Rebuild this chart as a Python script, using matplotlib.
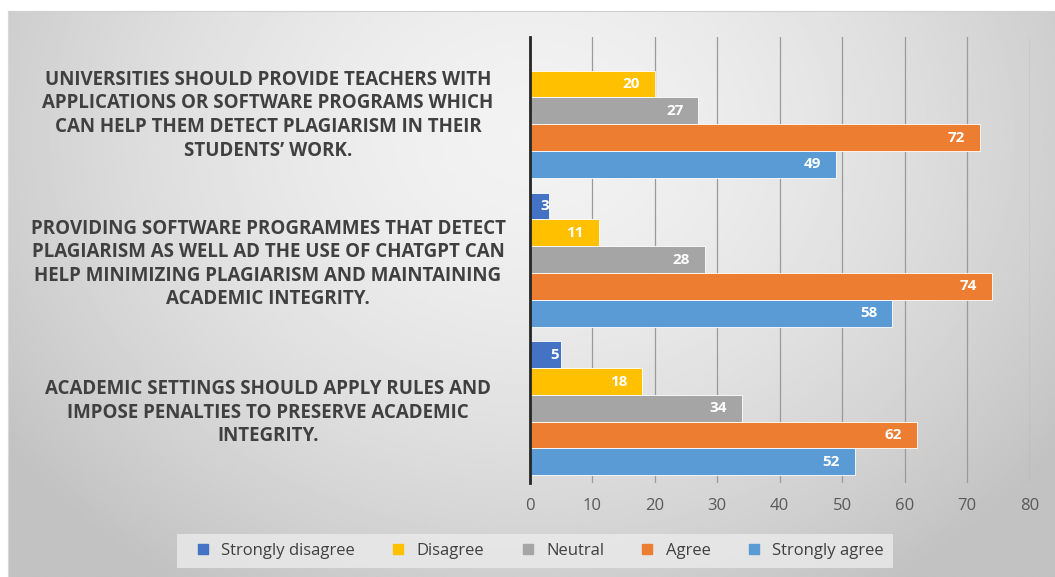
import numpy as np
import matplotlib.pyplot as plt
from matplotlib.lines import Line2D

# survey statements, top to bottom
statements = [
    "UNIVERSITIES SHOULD PROVIDE TEACHERS WITH\nAPPLICATIONS OR SOFTWARE PROGRAMS WHICH\nCAN HELP THEM DETECT PLAGIARISM IN THEIR\nSTUDENTS\u2019 WORK.",
    "PROVIDING SOFTWARE PROGRAMMES THAT DETECT\nPLAGIARISM AS WELL AD THE USE OF CHATGPT CAN\nHELP MINIMIZING PLAGIARISM AND MAINTAINING\nACADEMIC INTEGRITY.",
    "ACADEMIC SETTINGS SHOULD APPLY RULES AND\nIMPOSE PENALTIES TO PRESERVE ACADEMIC\nINTEGRITY.",
]

responses = ["Strongly disagree", "Disagree", "Neutral", "Agree", "Strongly agree"]
colors = ["#4472C4", "#FFC000", "#A5A5A5", "#ED7D31", "#5B9BD5"]

strongly_disagree = [0, 3, 5]
disagree = [20, 11, 18]
neutral = [27, 28, 34]
agree = [72, 74, 62]
strongly_agree = [49, 58, 52]
series = [strongly_disagree, disagree, neutral, agree, strongly_agree]

xticks = [0, 10, 20, 30, 40, 50, 60, 70, 80]

plt.rcParams['font.family'] = ['Open Sans', 'DejaVu Sans']

fig = plt.figure(figsize=(10.55, 5.77), dpi=100)
fig.patch.set_facecolor('white')

# radial grey background of the chart area
bg = fig.add_axes([7.5 / 1055, 0, 1 - 7.5 / 1055, 1 - 11 / 577], zorder=-10)
gx, gy = np.meshgrid(np.linspace(0, 1, 400), np.linspace(0, 1, 220))
r = np.sqrt(((gx - 0.5) / 0.62) ** 2 + ((gy - 0.22) / 0.95) ** 2)
shade = 0.95 - 0.19 * np.clip(r, 0, 1) ** 1.6
bg.imshow(shade, cmap='gray', vmin=0, vmax=1, aspect='auto', extent=[0, 1, 1, 0])
bg.set_xticks([])
bg.set_yticks([])
for s in bg.spines.values():
    s.set_visible(False)
bg.spines['top'].set_visible(True)
bg.spines['top'].set_color('#d0d0d0')
bg.spines['left'].set_visible(True)
bg.spines['left'].set_color('#d8d8d8')

ax = fig.add_axes([529.8 / 1055, 1 - 482.7 / 577, (1029.6 - 529.8) / 1055, (482.7 - 36.5) / 577])
ax.patch.set_alpha(0)

n = len(statements)
bar_h = 0.18
centers = np.arange(n)[::-1]  # first statement on top
for i, (vals, col, name) in enumerate(zip(series, colors, responses)):
    ypos = centers + (2 - i) * bar_h
    vals = np.array(vals)
    mask = vals > 0
    ax.barh(ypos[mask], vals[mask], height=bar_h, color=col,
            edgecolor='white', linewidth=0.6, zorder=3)
    for v, y in zip(vals[mask], ypos[mask]):
        if v < 8:
            ax.text(v * 0.8, y, str(v), ha='center', va='center',
                    color='white', fontsize=11, fontweight='bold', zorder=4)
        else:
            ax.text(v - 2.4, y, str(v), ha='right', va='center',
                    color='white', fontsize=11, fontweight='bold', zorder=4)

ax.set_xlim(0, 80)
ax.set_ylim(-0.5, n - 0.5)
ax.set_xticks(xticks)
ax.set_xticklabels([str(t) for t in xticks], color='#595959', fontsize=12)
ax.tick_params(axis='x', length=0, pad=11)
ax.grid(axis='x', color='#9a9a9a', linewidth=0.9, zorder=0)

ax.set_yticks(centers)
ax.set_yticklabels(statements, fontsize=13.5, fontweight='bold', color='#404040',
                   ha='center', multialignment='center', linespacing=1.24)
ax.tick_params(axis='y', length=0, pad=(529.8 - 268) * 72 / 100)

for s in ['top', 'right', 'bottom']:
    ax.spines[s].set_visible(False)
ax.spines['left'].set_color('#262626')
ax.spines['left'].set_linewidth(2)
ax.spines['left'].set_zorder(5)

handles = [Line2D([0], [0], marker='s', linestyle='none', markersize=7,
                  markerfacecolor=c, markeredgecolor=c) for c in colors]
leg = fig.legend(handles, responses, loc='center', bbox_to_anchor=(535 / 1055, 1 - 551 / 577),
                 ncol=5, frameon=True, fontsize=12, handletextpad=0.1, columnspacing=1.6,
                 borderpad=0.55, labelcolor='#404040')
leg.get_frame().set_facecolor('#ebebeb')
leg.get_frame().set_edgecolor('none')
leg.get_frame().set_boxstyle('square', pad=0)

fig.savefig('out.png', dpi=100)
